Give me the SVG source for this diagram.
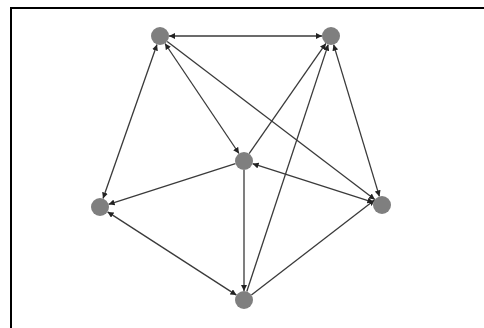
<svg xmlns="http://www.w3.org/2000/svg" width="484" height="328" viewBox="0 0 484 328">
<defs>
<marker id="ah" viewBox="0 0 10 10" refX="10" refY="5" markerWidth="6" markerHeight="6" markerUnits="userSpaceOnUse" orient="auto-start-reverse">
<path d="M0,0 L10,5 L0,10 z" fill="#222"/>
</marker>
<style>
.e{stroke:#3a3a3a;stroke-width:1.3;fill:none;marker-end:url(#ah)}
.b{marker-start:url(#ah)}
.n{fill:#7f7f7f}
</style>
</defs>
<rect width="484" height="328" fill="#ffffff"/>
<path d="M11,328 V8 H484" fill="none" stroke="#000" stroke-width="2"/>
<g id="connectors">
<line class="e b" x1="169" y1="36" x2="322" y2="36"/>
<line class="e b" x1="157" y1="44.5" x2="103" y2="198.5"/>
<line class="e b" x1="165" y1="43.5" x2="239" y2="153.5"/>
<line class="e" x1="167.2" y1="41.5" x2="374.8" y2="199.5"/>
<line class="e b" x1="333.6" y1="44.6" x2="379.4" y2="196.4"/>
<line class="e" x1="249.1" y1="153.6" x2="325.9" y2="43.4"/>
<line class="e" x1="246.8" y1="291.5" x2="328.2" y2="44.6"/>
<line class="e" x1="235.4" y1="163.7" x2="108.6" y2="204.3"/>
<line class="e" x1="244" y1="170" x2="244" y2="291"/>
<line class="e b" x1="252.6" y1="163.7" x2="373.4" y2="202.3"/>
<line class="e b" x1="107.6" y1="211.9" x2="236.4" y2="295.1"/>
<line class="e" x1="251.4" y1="294.9" x2="374.6" y2="199.9"/>
</g>
<g id="nA"><circle class="n" cx="160" cy="36" r="9"/></g>
<g id="nB"><circle class="n" cx="331" cy="36" r="9"/></g>
<g id="nC"><circle class="n" cx="244" cy="161" r="9"/></g>
<g id="nD"><circle class="n" cx="100" cy="207" r="9"/></g>
<g id="nE"><circle class="n" cx="382" cy="205" r="9"/></g>
<g id="nF"><circle class="n" cx="244" cy="300" r="9"/></g>
</svg>
